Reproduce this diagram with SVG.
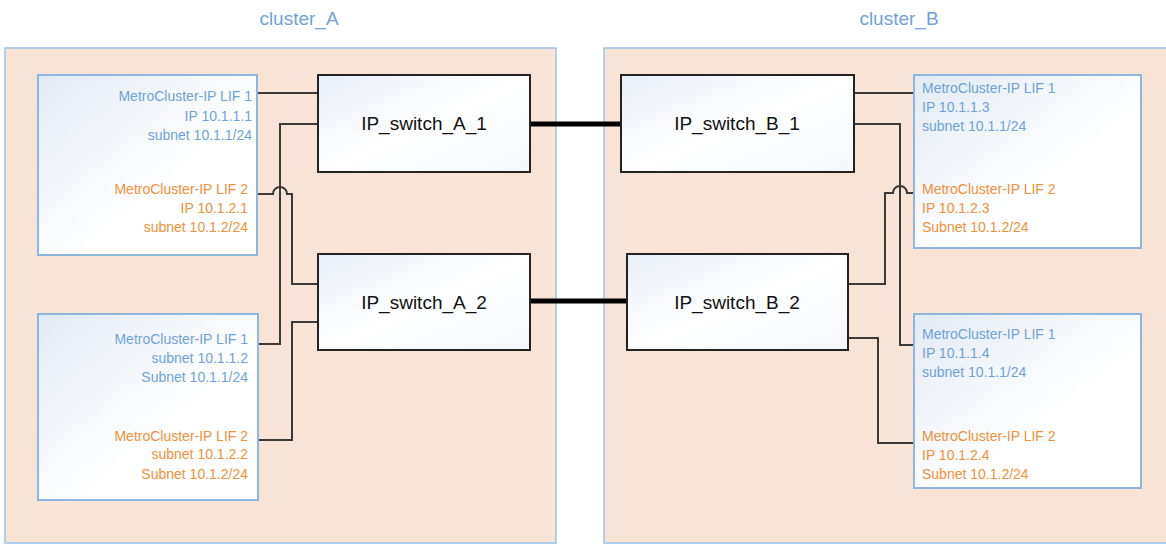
<svg xmlns="http://www.w3.org/2000/svg" width="1166" height="544" viewBox="0 0 1166 544">
<defs>
<linearGradient id="nodeGrad" x1="0" y1="0" x2="1" y2="1">
<stop offset="0" stop-color="#e3eaf5"/>
<stop offset="0.6" stop-color="#ffffff"/>
<stop offset="1" stop-color="#ffffff"/>
</linearGradient>
<linearGradient id="swGrad" x1="0" y1="0" x2="1" y2="1">
<stop offset="0" stop-color="#e8eef7"/>
<stop offset="0.5" stop-color="#ffffff"/>
<stop offset="1" stop-color="#f4f7fb"/>
</linearGradient>
</defs>
<style>
.cluster{fill:#f8e4d6;stroke:#9dc3e6;stroke-width:1.5}
.ctitle{font-family:"Liberation Sans",Arial,sans-serif;font-size:19px;fill:#6fa3d8;text-anchor:middle}
.node{fill:url(#nodeGrad);stroke:#8fb6e0;stroke-width:2}
.sw{fill:url(#swGrad);stroke:#222;stroke-width:2}
.swt{font-family:"Liberation Sans",Arial,sans-serif;font-size:19px;fill:#111;text-anchor:middle}
.lt{font-family:"Liberation Sans",Arial,sans-serif;font-size:14px}
.b{fill:#6fa3d8}
.o{fill:#f0903a}
.r{text-anchor:end}
.wire{fill:none;stroke:#3a3a3a;stroke-width:2}
.isl{fill:none;stroke:#000;stroke-width:5;stroke-linecap:round}
</style>
<g id="cluster_A">
<rect class="cluster" x="5" y="48" width="551" height="495"/>
<text class="ctitle" x="299" y="25">cluster_A</text>
</g>
<g id="cluster_B">
<rect class="cluster" x="604" y="48" width="570" height="495"/>
<text class="ctitle" x="899" y="25">cluster_B</text>
</g>
<g id="connectors">
<path class="wire" d="M257,93 H318"/>
<path class="wire" d="M318,124 H280 V344 H258"/>
<path class="wire" d="M257,194 H273 A7,7 0 0 1 287,194 H292 V284 H318"/>
<path class="wire" d="M258,440 H292 V322 H318"/>
<path class="wire" d="M854,93 H914"/>
<path class="wire" d="M854,124 H900 V345 H914"/>
<path class="wire" d="M914,193 H907 A7,7 0 0 0 893,193 H885 V284 H848"/>
<path class="wire" d="M848,338 H878 V443 H914"/>
<path class="isl" d="M530,124 H621"/>
<path class="isl" d="M530,301 H627"/>
</g>
<g id="node_A1">
<rect class="node" x="38" y="75" width="219" height="180"/>
<text class="lt b r" x="252" y="101">MetroCluster-IP LIF 1</text>
<text class="lt b r" x="252" y="121">IP 10.1.1.1</text>
<text class="lt b r" x="252" y="140">subnet 10.1.1/24</text>
<text class="lt o r" x="248" y="194">MetroCluster-IP LIF 2</text>
<text class="lt o r" x="248" y="213">IP 10.1.2.1</text>
<text class="lt o r" x="248" y="232">subnet 10.1.2/24</text>
</g>
<g id="node_A2">
<rect class="node" x="38" y="314" width="220" height="186"/>
<text class="lt b r" x="248" y="344">MetroCluster-IP LIF 1</text>
<text class="lt b r" x="248" y="363">subnet 10.1.1.2</text>
<text class="lt b r" x="248" y="382">Subnet 10.1.1/24</text>
<text class="lt o r" x="248" y="441">MetroCluster-IP LIF 2</text>
<text class="lt o r" x="248" y="459">subnet 10.1.2.2</text>
<text class="lt o r" x="248" y="479">Subnet 10.1.2/24</text>
</g>
<g id="IP_switch_A_1">
<rect class="sw" x="318" y="75" width="212" height="97"/>
<text class="swt" x="424" y="130">IP_switch_A_1</text>
</g>
<g id="IP_switch_A_2">
<rect class="sw" x="318" y="254" width="212" height="96"/>
<text class="swt" x="424" y="309">IP_switch_A_2</text>
</g>
<g id="IP_switch_B_1">
<rect class="sw" x="621" y="75" width="233" height="97"/>
<text class="swt" x="737" y="130">IP_switch_B_1</text>
</g>
<g id="IP_switch_B_2">
<rect class="sw" x="627" y="254" width="221" height="96"/>
<text class="swt" x="737" y="309">IP_switch_B_2</text>
</g>
<g id="node_B1">
<rect class="node" x="914" y="75" width="227" height="173"/>
<text class="lt b" x="922" y="93">MetroCluster-IP LIF 1</text>
<text class="lt b" x="922" y="112">IP 10.1.1.3</text>
<text class="lt b" x="922" y="131">subnet 10.1.1/24</text>
<text class="lt o" x="922" y="194">MetroCluster-IP LIF 2</text>
<text class="lt o" x="922" y="213">IP 10.1.2.3</text>
<text class="lt o" x="922" y="232">Subnet 10.1.2/24</text>
</g>
<g id="node_B2">
<rect class="node" x="914" y="314" width="227" height="174"/>
<text class="lt b" x="922" y="339">MetroCluster-IP LIF 1</text>
<text class="lt b" x="922" y="358">IP 10.1.1.4</text>
<text class="lt b" x="922" y="377">subnet 10.1.1/24</text>
<text class="lt o" x="922" y="441">MetroCluster-IP LIF 2</text>
<text class="lt o" x="922" y="460">IP 10.1.2.4</text>
<text class="lt o" x="922" y="479">Subnet 10.1.2/24</text>
</g>
</svg>
